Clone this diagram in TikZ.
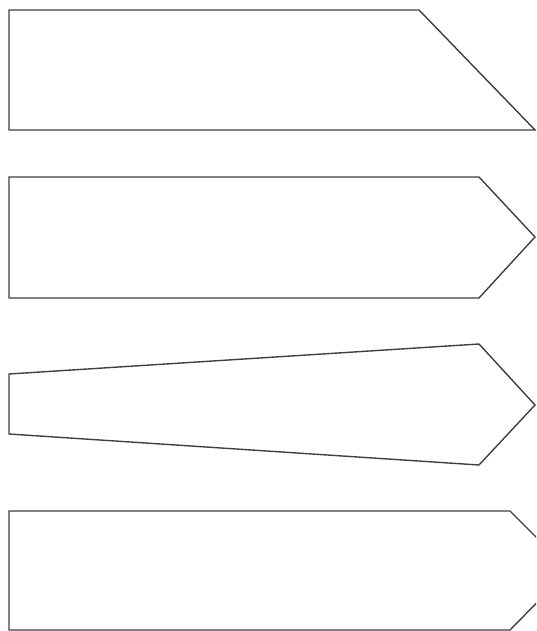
\documentclass[tikz,border=0pt]{standalone}
\begin{document}
\begin{tikzpicture}[x=1pt,y=-1pt,
  shapeline/.style={draw=black!75,line width=1.4pt,fill=white,line join=miter}]
\useasboundingbox (0,0) rectangle (536,631);
\clip (0,0) rectangle (536,631);
% shape 1: trapezoid
\draw[shapeline] (9,10) -- (419,10) -- (535,130) -- (9,130) -- cycle;
% shape 2: arrow pentagon
\draw[shapeline] (9,177) -- (479,177) -- (535,237) -- (479,298) -- (9,298) -- cycle;
% shape 3: tapered pentagon
\draw[shapeline] (9,374) -- (479,344) -- (535,405) -- (479,465) -- (9,434) -- cycle;
% shape 4: pentagon cut by the frame
\draw[shapeline] (9,511) -- (510,511) -- (569,570) -- (510,630) -- (9,630) -- cycle;
\end{tikzpicture}
\end{document}
